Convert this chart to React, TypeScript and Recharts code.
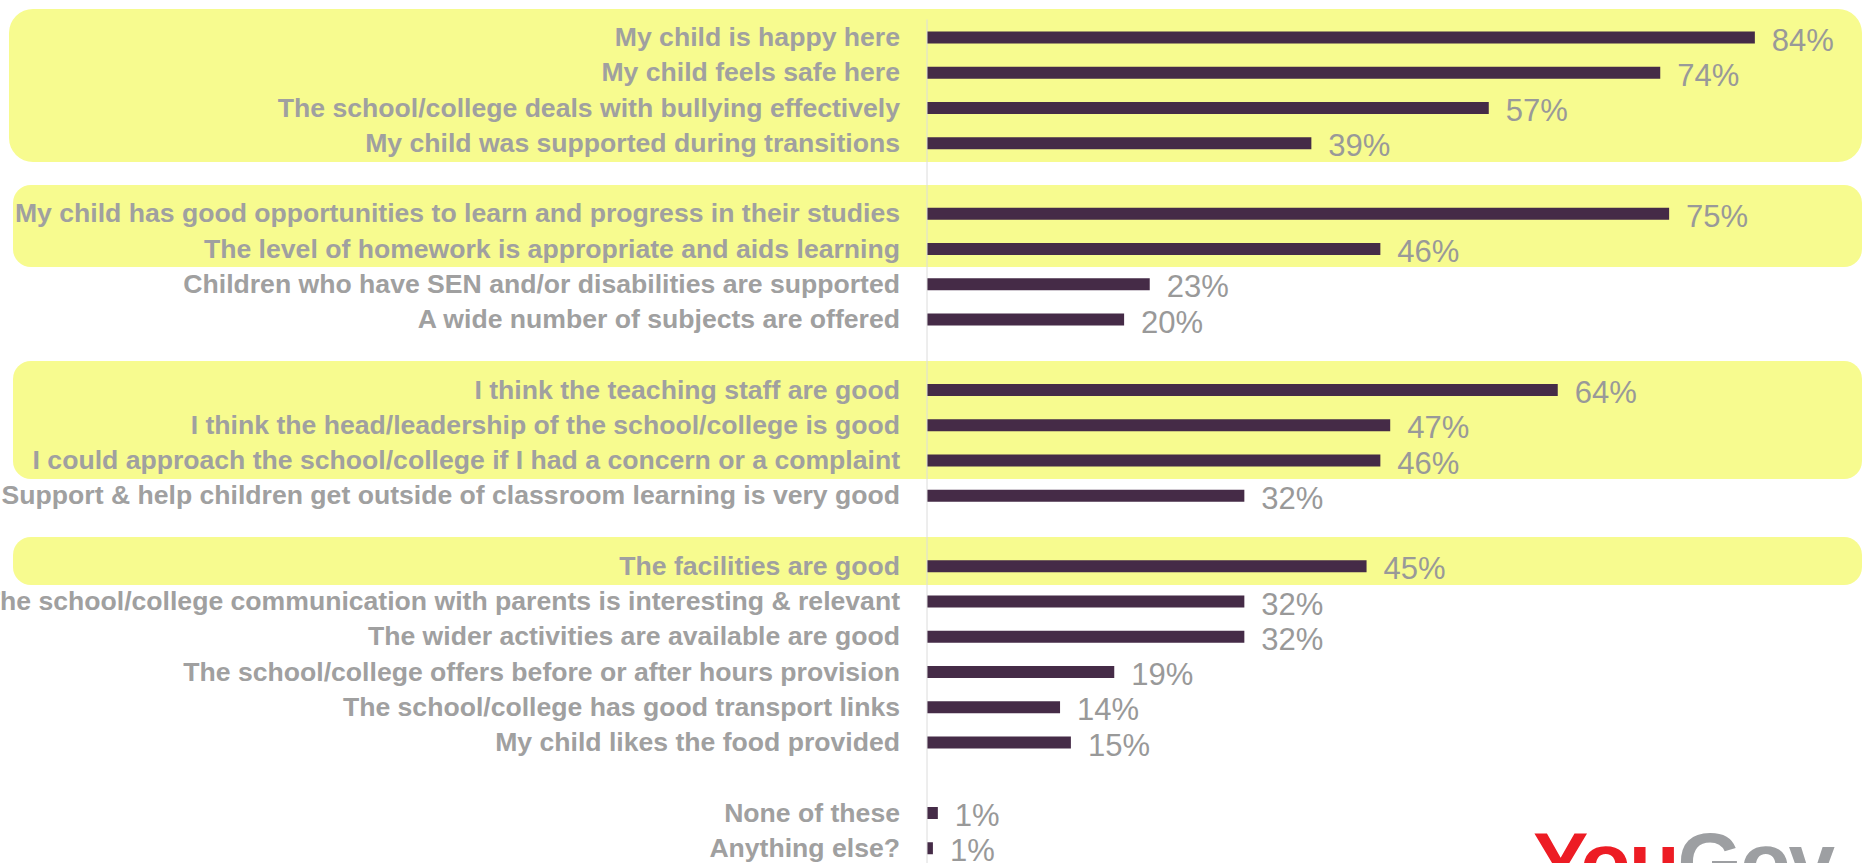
import React from "react"
import { BarChart, Bar, XAxis, YAxis, LabelList } from "recharts"

// "" marks an empty spacer row between statement groups
const categories = [
  "My child is happy here",
  "My child feels safe here",
  "The school/college deals with bullying effectively",
  "My child was supported during transitions",
  "",
  "My child has good opportunities to learn and progress in their studies",
  "The level of homework is appropriate and aids learning",
  "Children who have SEN and/or disabilities are supported",
  "A wide number of subjects are offered",
  "",
  "I think the teaching staff are good",
  "I think the head/leadership of the school/college is good",
  "I could approach the school/college if I had a concern or a complaint",
  "Support & help children get outside of classroom learning is very good",
  "",
  "The facilities are good",
  "The school/college communication with parents is interesting & relevant",
  "The wider activities are available are good",
  "The school/college offers before or after hours provision",
  "The school/college has good transport links",
  "My child likes the food provided",
  "",
  "None of these",
  "Anything else?",
]

const values = [
  84, 74.4, 57, 39, null,
  75.3, 46, 22.6, 20, null,
  64, 47, 46, 32.2, null,
  44.6, 32.2, 32.2, 19, 13.5, 14.6, null,
  1.1, 0.6,
]

// row index ranges shaded yellow
const highlightGroups = [
  [0, 3],
  [5, 6],
  [10, 12],
  [15, 15],
]

const W = 1865
const H = 876
const TOP = 19.5
const ROW = 35.25
const AXIS_W = 927

const data = categories.map((name, i) => ({ idx: i, name, value: values[i] }))

function CategoryTick(props: any) {
  const { x, y, payload } = props
  const label = categories[Number(payload.value)]
  if (!label) return null
  return (
    <text
      x={x}
      y={y}
      dy={9}
      textAnchor="end"
      fill="#a0a0a0"
      fontSize={26.6}
      fontWeight="bold"
      fontFamily="'Liberation Sans', Arial, sans-serif"
    >
      {label}
    </text>
  )
}

function ValueLabel(props: any) {
  const { x, y, width, height, value } = props
  if (value == null) return null
  return (
    <text
      x={Number(x) + Number(width) + 17}
      y={Number(y) + Number(height) / 2 + 13}
      fill="#999999"
      fontSize={31}
      fontFamily="'Liberation Sans', Arial, sans-serif"
    >
      {Math.round(Number(value))}%
    </text>
  )
}

export default function App() {
  const plotH = categories.length * ROW
  return (
    <div style={{ position: "absolute", left: 0, top: 0, width: W, height: 863, overflow: "hidden", background: "#fff" }}>
      {highlightGroups.map(([a, b], i) => (
        <div
          key={i}
          style={{
            position: "absolute",
            left: i === 0 ? 9 : 13,
            width: i === 0 ? 1853 : 1849,
            top: TOP + a * ROW - 11,
            height: (b - a + 1) * ROW + 12,
            background: "#f7fb8f",
            borderRadius: i === 0 ? 24 : 18,
          }}
        />
      ))}
      <div style={{ position: "absolute", left: 0, top: 0 }}>
        <BarChart
          width={W}
          height={H}
          data={data}
          layout="vertical"
          margin={{ top: TOP, right: 51, bottom: H - TOP - plotH, left: 0 }}
        >
          <XAxis type="number" domain={[0, 90]} hide />
          <YAxis
            type="category"
            dataKey="idx"
            width={AXIS_W}
            axisLine={{ stroke: "#dcdcdc", strokeWidth: 1 }}
            tickLine={false}
            tickSize={0}
            tickMargin={27}
            interval={0}
            tick={<CategoryTick />}
          />
          <Bar dataKey="value" fill="#452b47" barSize={12} isAnimationActive={false}>
            <LabelList dataKey="value" content={<ValueLabel />} />
          </Bar>
        </BarChart>
      </div>
      <svg style={{ position: "absolute", left: 0, top: 0 }} width={W} height={863}>
        <text
          x={1533}
          y={891}
          fontSize={83}
          fontWeight="bold"
          letterSpacing={-2}
          fontFamily="'Liberation Sans', Arial, sans-serif"
        >
          <tspan fill="#ed1c24">You</tspan>
          <tspan fill="#9d9fa2">Gov</tspan>
        </text>
      </svg>
    </div>
  )
}
